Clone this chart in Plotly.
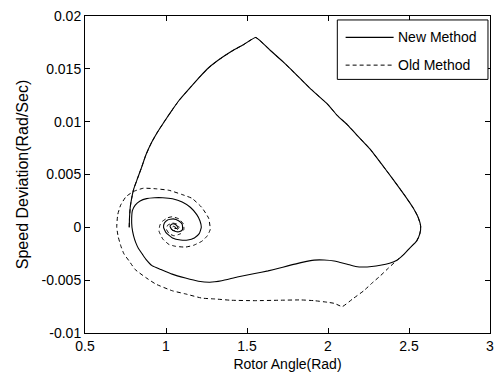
import plotly.graph_objects as go

# ---- data ----
new_angle = [0.773, 0.775, 0.780, 0.788, 0.800, 0.824, 0.850, 0.875, 0.910, 0.947, 0.985, 1.028,
             1.080, 1.140, 1.200, 1.263, 1.330, 1.405, 1.480, 1.554,
             1.640, 1.720, 1.813, 1.900, 1.997, 2.058, 2.120, 2.181, 2.260, 2.330, 2.405, 2.470,
             2.527, 2.555, 2.572, 2.567, 2.547, 2.506, 2.465, 2.425, 2.380, 2.323, 2.270, 2.221,
             2.170, 2.119, 2.070, 2.038, 1.976, 1.915, 1.833, 1.752, 1.690, 1.630, 1.548, 1.440,
             1.344, 1.270, 1.200, 1.120, 1.038, 0.970, 0.916, 0.875, 0.855, 0.830, 0.814, 0.800,
             0.790, 0.788, 0.793, 0.810, 0.840, 0.880, 0.930, 0.980, 1.040, 1.100, 1.150, 1.190,
             1.210, 1.218, 1.205, 1.175, 1.135, 1.090, 1.040, 1.000, 0.985, 0.990, 1.010, 1.045,
             1.080, 1.100, 1.102, 1.085, 1.060, 1.035, 1.025, 1.035, 1.055, 1.070, 1.068, 1.055,
             1.060]
new_speed = [0.0000, 0.0010, 0.0020, 0.00275, 0.0036, 0.00462, 0.0057, 0.00682, 0.0080, 0.0090,
             0.0099, 0.01088, 0.0120, 0.01306, 0.0141, 0.0151, 0.0159, 0.01666, 0.0173, 0.01797,
             0.0168, 0.0157, 0.01432, 0.0130, 0.01166, 0.01057, 0.0097, 0.00869, 0.0074, 0.0060,
             0.00447, 0.0031, 0.00181, 0.0010, 0.0001, -0.0006, -0.0013, -0.00194, -0.0026,
             -0.00312, -0.0034, -0.00359, -0.0037, -0.00375, -0.0037, -0.00349, -0.0033,
             -0.00318, -0.00309, -0.0031, -0.00334, -0.00365, -0.0039, -0.00412, -0.00437,
             -0.0047, -0.00506, -0.0052, -0.0051, -0.0048, -0.00443, -0.0040, -0.00365, -0.0030,
             -0.00256, -0.0020, -0.00147, -0.0008, 0.0000, 0.0008, 0.0016, 0.0021, 0.0025,
             0.00272, 0.0028, 0.0028, 0.0027, 0.0024, 0.0019, 0.0012, 0.0006, 0.0000, -0.0006,
             -0.0010, -0.0012, -0.0012, -0.0010, -0.0005, 0.0000, 0.0004, 0.0007, 0.0008,
             0.0006, 0.0003, -0.0002, -0.0004, -0.0004, -0.0002, 0.0001, 0.0003, 0.0003, 0.0001,
             -0.0001, -0.0001, 0.0000]

old_angle = [0.773, 0.775, 0.780, 0.788, 0.800, 0.824, 0.850, 0.875, 0.910, 0.947, 0.985, 1.028,
             1.080, 1.140, 1.200, 1.263, 1.330, 1.405, 1.480, 1.554,
             1.640, 1.720, 1.813, 1.900, 1.997, 2.058, 2.120, 2.181, 2.260, 2.330, 2.405, 2.470,
             2.527, 2.555, 2.572, 2.567, 2.547, 2.506, 2.465, 2.425,
             2.370, 2.323, 2.270, 2.221, 2.150, 2.088, 2.040, 1.997, 1.915, 1.833, 1.700, 1.548,
             1.400, 1.304, 1.222, 1.120, 1.038, 0.937, 0.875, 0.810, 0.773, 0.740, 0.722, 0.705,
             0.696, 0.702, 0.720, 0.753, 0.800, 0.860, 0.937, 1.020, 1.100, 1.160, 1.220, 1.263,
             1.273, 1.255, 1.222, 1.170, 1.120, 1.060, 1.018, 0.980, 0.957, 0.962, 0.977, 1.010,
             1.038, 1.080, 1.108, 1.110, 1.090, 1.050, 1.020, 1.003, 1.010, 1.040, 1.070, 1.080,
             1.065, 1.040, 1.032, 1.045, 1.060]
old_speed = [0.0000, 0.0010, 0.0020, 0.00275, 0.0036, 0.00462, 0.0057, 0.00682, 0.0080, 0.0090,
             0.0099, 0.01088, 0.0120, 0.01306, 0.0141, 0.0151, 0.0159, 0.01666, 0.0173, 0.01797,
             0.0168, 0.0157, 0.01432, 0.0130, 0.01166, 0.01057, 0.0097, 0.00869, 0.0074, 0.0060,
             0.00447, 0.0031, 0.00181, 0.0010, 0.0001, -0.0006, -0.0013, -0.00194, -0.0026,
             -0.00312,
             -0.0039, -0.00459, -0.0053, -0.0060, -0.0068, -0.0075, -0.0072, -0.00709, -0.00694,
             -0.00687, -0.0069, -0.00694, -0.0069, -0.00678, -0.0067, -0.0063, -0.0060, -0.00537,
             -0.00475, -0.0040, -0.0032, -0.0025, -0.0018, -0.0009, 0.0000, 0.0012, 0.0021,
             0.0029, 0.0034, 0.0037, 0.00365, 0.0035, 0.0031, 0.00275, 0.0019, 0.00087, -0.0002,
             -0.0008, -0.00131, -0.0017, -0.00187, -0.0018, -0.00162, -0.0011, -0.00037, 0.0002,
             0.00056, 0.0009, 0.0010, 0.0008, 0.0003, -0.0002, -0.0006, -0.0008, -0.0006, -0.0002,
             0.0002, 0.0004, 0.0003, 0.0000, -0.0003, -0.0003, -0.0001, 0.0001, 0.0000]

x_ticks = [0.5, 1, 1.5, 2, 2.5, 3]
x_tick_labels = ["0.5", "1", "1.5", "2", "2.5", "3"]
y_ticks = [-0.01, -0.005, 0, 0.005, 0.01, 0.015, 0.02]
y_tick_labels = ["-0.01", "-0.005", "0", "0.005", "0.01", "0.015", "0.02"]
series_names = ["New Method", "Old Method"]

FONT = "Liberation Sans, Arial, sans-serif"
DASH = "4px,3px"

fig = go.Figure()
fig.add_trace(go.Scatter(x=old_angle, y=old_speed, mode="lines", name=series_names[1],
                         line=dict(color="black", width=1, dash=DASH, shape="spline", smoothing=0.4),
                         showlegend=False))
fig.add_trace(go.Scatter(x=new_angle, y=new_speed, mode="lines", name=series_names[0],
                         line=dict(color="black", width=1.1, shape="spline", smoothing=0.4),
                         showlegend=False))

axis_common = dict(showline=True, linecolor="black", linewidth=1, mirror="ticks",
                   ticks="inside", ticklen=5, tickcolor="black", showgrid=False,
                   zeroline=False, tickfont=dict(family=FONT, size=14, color="black"))

fig.update_xaxes(range=[0.5, 3], tickvals=x_ticks, ticktext=x_tick_labels,
                 title=dict(text="Rotor Angle(Rad)", font=dict(family=FONT, size=14, color="black"),
                            standoff=6),
                 **axis_common)
fig.update_yaxes(range=[-0.01, 0.02], tickvals=y_ticks, ticktext=y_tick_labels,
                 title=dict(text="Speed Deviation(Rad/Sec)",
                            font=dict(family=FONT, size=16, color="black"), standoff=8),
                 **axis_common)

# legend box drawn manually (MATLAB style)
shapes = [
    dict(type="rect", xref="paper", yref="paper", x0=0.623, x1=0.995, y0=0.80, y1=0.9875,
         line=dict(color="black", width=1), fillcolor="white", layer="above"),
    dict(type="line", xref="paper", yref="paper", x0=0.6435, x1=0.762, y0=0.9325, y1=0.9325,
         line=dict(color="black", width=1.1)),
    dict(type="line", xref="paper", yref="paper", x0=0.6435, x1=0.762, y0=0.845, y1=0.845,
         line=dict(color="black", width=1, dash=DASH)),
]
annotations = [
    dict(xref="paper", yref="paper", x=0.768, y=0.9325, text=series_names[0], showarrow=False,
         xanchor="left", yanchor="middle", font=dict(family=FONT, size=14, color="black")),
    dict(xref="paper", yref="paper", x=0.768, y=0.845, text=series_names[1], showarrow=False,
         xanchor="left", yanchor="middle", font=dict(family=FONT, size=14, color="black")),
]

fig.update_layout(width=502, height=388, margin=dict(l=85, r=8, t=13, b=55),
                  paper_bgcolor="white", plot_bgcolor="white",
                  shapes=shapes, annotations=annotations, showlegend=False)

fig.write_html("out.html")
